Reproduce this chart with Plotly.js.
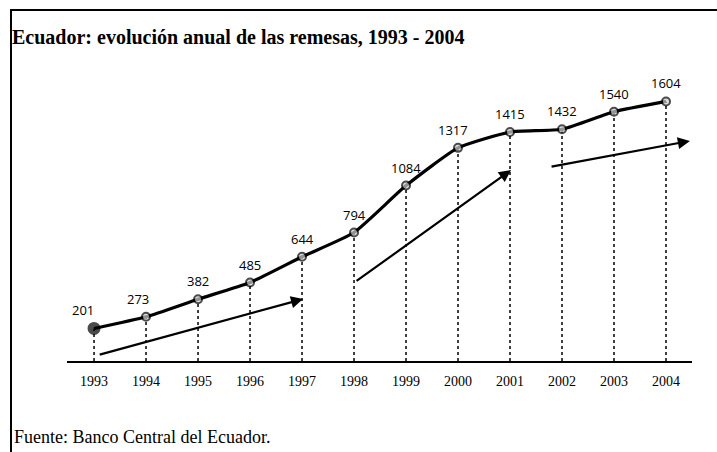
<!DOCTYPE html>
<html>
<head>
<meta charset="utf-8">
<script src="https://cdn.plot.ly/plotly-3.0.1.min.js"></script>
<style>
  html, body { margin: 0; padding: 0; background: #fff; }
  #wrap { position: relative; width: 717px; height: 452px; overflow: hidden; }
  #chart { position: absolute; left: 0; top: 0; width: 717px; height: 452px; }
  #bt { position: absolute; left: 10px; top: 9px; width: 707px; height: 2px; background: #000; }
  #bl { position: absolute; left: 10px; top: 9px; width: 2px; height: 443px; background: #000; }
</style>
</head>
<body>
<div id="wrap">
  <div id="chart"></div>
  <div id="bt"></div>
  <div id="bl"></div>
</div>
<script>
// Data
const years = [1993, 1994, 1995, 1996, 1997, 1998, 1999, 2000, 2001, 2002, 2003, 2004];
const remesas = [201, 273, 382, 485, 644, 794, 1084, 1317, 1415, 1432, 1540, 1604];
const tickLabels = ["1993","1994","1995","1996","1997","1998","1999","2000","2001","2002","2003","2004"];
// Trend arrows (start year, start value, end year, end value)
const arrowStartYear = [1993.08, 1998.02, 2001.77];
const arrowStartValue = [37, 488, 1199];
const arrowEndYear = [1997.02, 2001.02, 2004.46];
const arrowEndValue = [383, 1180, 1360];

const titleText = "Ecuador: evolución anual de las remesas, 1993 - 2004";
const sourceText = "Fuente: Banco Central del Ecuador.";

// Dotted drop lines
const dropX = [], dropY = [];
years.forEach((yr, i) => { dropX.push(yr, yr, null); dropY.push(0, remesas[i], null); });

const dropTrace = {
  x: dropX, y: dropY, mode: 'lines', type: 'scatter',
  line: { color: '#000', width: 1.5, dash: 'dot' },
  hoverinfo: 'skip', showlegend: false
};

const mainTrace = {
  x: years, y: remesas, type: 'scatter', mode: 'lines+markers',
  line: { color: '#000', width: 3.2, shape: 'spline', smoothing: 0.5 },
  marker: {
    size: years.map((y, i) => i === 0 ? 11 : 8),
    color: years.map((y, i) => i === 0 ? '#000' : '#d0d0d0'),
    line: { color: '#000', width: 2 }
  },
  cliponaxis: false,
  showlegend: false, hoverinfo: 'skip'
};

// Value labels
const annotations = years.map((yr, i) => ({
  x: yr, y: remesas[i], xref: 'x', yref: 'y',
  text: String(remesas[i]), showarrow: false,
  xanchor: 'center', yanchor: 'middle',
  yshift: 18, xshift: i === 0 ? -11 : (i === 1 ? -8 : (i === 7 ? -5 : 0)),
  font: { family: 'Open Sans, sans-serif', size: 13, color: '#000' }
}));

arrowStartYear.forEach((sx, i) => annotations.push({
  x: arrowEndYear[i], y: arrowEndValue[i],
  ax: sx, ay: arrowStartValue[i],
  xref: 'x', yref: 'y', axref: 'x', ayref: 'y',
  showarrow: true, arrowhead: 2, arrowsize: 1.1, arrowwidth: 2.2, arrowcolor: '#000',
  text: ''
}));

annotations.push({
  text: sourceText, xref: 'paper', yref: 'paper',
  x: (12 - 67) / 625, y: (361 - 437) / 301,
  xanchor: 'left', yanchor: 'middle', showarrow: false,
  font: { family: 'Liberation Serif, serif', size: 18, color: '#000' }
});

const layout = {
  width: 717, height: 452,
  margin: { l: 67, r: 25, t: 60, b: 91 },
  paper_bgcolor: '#fff', plot_bgcolor: '#fff',
  title: {
    text: '<b>' + titleText + '</b>',
    xref: 'container', yref: 'container',
    x: 12 / 717, xanchor: 'left',
    y: 1 - 37 / 452, yanchor: 'middle',
    font: { family: 'Liberation Serif, serif', size: 20, color: '#000' }
  },
  xaxis: {
    range: [1992.48, 2004.5],
    tickvals: years, ticktext: tickLabels,
    showgrid: false, zeroline: false,
    showline: true, linecolor: '#000', linewidth: 2,
    ticks: '', ticklabelstandoff: 6,
    tickfont: { family: 'Liberation Serif, serif', size: 14, color: '#000' },
    fixedrange: true
  },
  yaxis: {
    range: [0, 1860], visible: false, showgrid: false, zeroline: false, fixedrange: true
  },
  annotations: annotations,
  showlegend: false
};

Plotly.newPlot('chart', [dropTrace, mainTrace], layout, { displayModeBar: false, staticPlot: true });
</script>
</body>
</html>
